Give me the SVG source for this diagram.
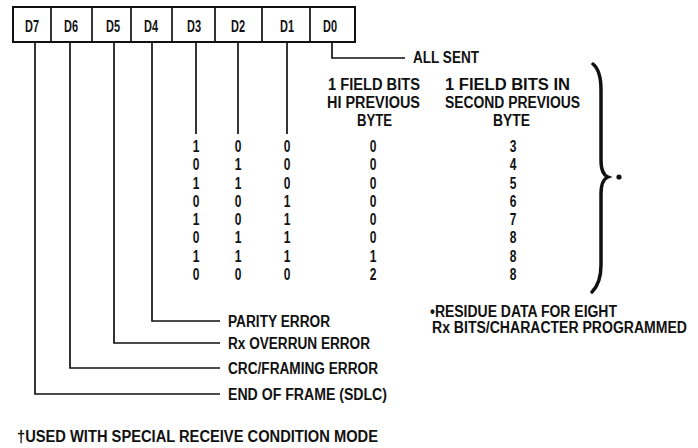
<svg xmlns="http://www.w3.org/2000/svg" width="698" height="448" viewBox="0 0 698 448">
  <style>
    text { font-family: "Liberation Sans", Arial, sans-serif; font-weight: bold; font-size: 16px; fill: #111; }
    .mid { text-anchor: middle; }
    .num { font-size: 16.5px; }
    .wire { fill: none; stroke: #111; stroke-width: 1.7; }
    .box { fill: #fff; stroke: #111; stroke-width: 2; }
  </style>
  <rect width="698" height="448" fill="#fff"/>

  <!-- status register, bits D7..D0 -->
  <g id="register">
    <rect class="box" x="13" y="7" width="342" height="35"/>
    <path class="wire" stroke-width="2" d="M51 7V42M92 7V42M131 7V42M172 7V42M215 7V42M262 7V42M310 7V42"/>
    <text x="25" y="32" textLength="14" lengthAdjust="spacingAndGlyphs">D7</text>
    <text x="64" y="32" textLength="14" lengthAdjust="spacingAndGlyphs">D6</text>
    <text x="106" y="32" textLength="14" lengthAdjust="spacingAndGlyphs">D5</text>
    <text x="144" y="32" textLength="14" lengthAdjust="spacingAndGlyphs">D4</text>
    <text x="187" y="32" textLength="14" lengthAdjust="spacingAndGlyphs">D3</text>
    <text x="231" y="32" textLength="14" lengthAdjust="spacingAndGlyphs">D2</text>
    <text x="280" y="32" textLength="14" lengthAdjust="spacingAndGlyphs">D1</text>
    <text x="323" y="32" textLength="14" lengthAdjust="spacingAndGlyphs">D0</text>
  </g>

  <!-- leader lines from each bit -->
  <g id="connectors" class="wire">
    <path d="M35 42V394H220"/>
    <path d="M70 42V368H220"/>
    <path d="M114 42V343H220"/>
    <path d="M152 42V321H220"/>
    <path d="M196 42V134"/>
    <path d="M238 42V134"/>
    <path d="M287 42V134"/>
    <path d="M332 42V58H405"/>
  </g>

  <g id="all-sent">
    <text x="413" y="63" textLength="66" lengthAdjust="spacingAndGlyphs">ALL SENT</text>
  </g>

  <!-- residue table -->
  <g id="table-head">
    <text x="328" y="90" textLength="92" lengthAdjust="spacingAndGlyphs">1 FIELD BITS</text>
    <text x="327" y="108" textLength="93" lengthAdjust="spacingAndGlyphs">HI PREVIOUS</text>
    <text x="357" y="126" textLength="35" lengthAdjust="spacingAndGlyphs">BYTE</text>
    <text x="445" y="90" textLength="125" lengthAdjust="spacingAndGlyphs">1 FIELD BITS IN</text>
    <text x="445" y="108" textLength="135" lengthAdjust="spacingAndGlyphs">SECOND PREVIOUS</text>
    <text x="493" y="126" textLength="37" lengthAdjust="spacingAndGlyphs">BYTE</text>
  </g>

  <g id="table-d3" class="num" transform="translate(196 0) scale(0.75 1)">
    <text class="mid" y="152">1</text><text class="mid" y="170.3">0</text><text class="mid" y="188.6">1</text><text class="mid" y="206.9">0</text>
    <text class="mid" y="225.1">1</text><text class="mid" y="243.4">0</text><text class="mid" y="261.7">1</text><text class="mid" y="280">0</text>
  </g>
  <g id="table-d2" class="num" transform="translate(238 0) scale(0.75 1)">
    <text class="mid" y="152">0</text><text class="mid" y="170.3">1</text><text class="mid" y="188.6">1</text><text class="mid" y="206.9">0</text>
    <text class="mid" y="225.1">0</text><text class="mid" y="243.4">1</text><text class="mid" y="261.7">1</text><text class="mid" y="280">0</text>
  </g>
  <g id="table-d1" class="num" transform="translate(287 0) scale(0.75 1)">
    <text class="mid" y="152">0</text><text class="mid" y="170.3">0</text><text class="mid" y="188.6">0</text><text class="mid" y="206.9">1</text>
    <text class="mid" y="225.1">1</text><text class="mid" y="243.4">1</text><text class="mid" y="261.7">1</text><text class="mid" y="280">0</text>
  </g>
  <g id="table-prev" class="num" transform="translate(373 0) scale(0.75 1)">
    <text class="mid" y="152">0</text><text class="mid" y="170.3">0</text><text class="mid" y="188.6">0</text><text class="mid" y="206.9">0</text>
    <text class="mid" y="225.1">0</text><text class="mid" y="243.4">0</text><text class="mid" y="261.7">1</text><text class="mid" y="280">2</text>
  </g>
  <g id="table-prev2" class="num" transform="translate(513 0) scale(0.75 1)">
    <text class="mid" y="152">3</text><text class="mid" y="170.3">4</text><text class="mid" y="188.6">5</text><text class="mid" y="206.9">6</text>
    <text class="mid" y="225.1">7</text><text class="mid" y="243.4">8</text><text class="mid" y="261.7">8</text><text class="mid" y="280">8</text>
  </g>

  <!-- brace grouping the table -->
  <g id="brace">
    <path fill="none" stroke="#111" stroke-width="3.5" stroke-linecap="round" d="M593 64C599 69 601 78 601 90L601 160C601 170 603 175 608 177C603 179 601 184 601 194L601 265C601 278 598 286 592 292"/>
    <circle cx="619" cy="177" r="2.6" fill="#111"/>
  </g>

  <!-- bit meanings -->
  <g id="labels">
    <text x="228" y="327" textLength="102" lengthAdjust="spacingAndGlyphs">PARITY ERROR</text>
    <text x="228" y="349" textLength="142" lengthAdjust="spacingAndGlyphs">Rx OVERRUN ERROR</text>
    <text x="228" y="374" textLength="150" lengthAdjust="spacingAndGlyphs">CRC/FRAMING ERROR</text>
    <text x="228" y="400" textLength="159" lengthAdjust="spacingAndGlyphs">END OF FRAME (SDLC)</text>
  </g>

  <g id="residue-note">
    <text x="430" y="317" textLength="187" lengthAdjust="spacingAndGlyphs">•RESIDUE DATA FOR EIGHT</text>
    <text x="432" y="333" textLength="255" lengthAdjust="spacingAndGlyphs">Rx BITS/CHARACTER PROGRAMMED</text>
  </g>

  <g id="footnote">
    <text x="17" y="442" textLength="361" lengthAdjust="spacingAndGlyphs">†USED WITH SPECIAL RECEIVE CONDITION MODE</text>
  </g>
</svg>
